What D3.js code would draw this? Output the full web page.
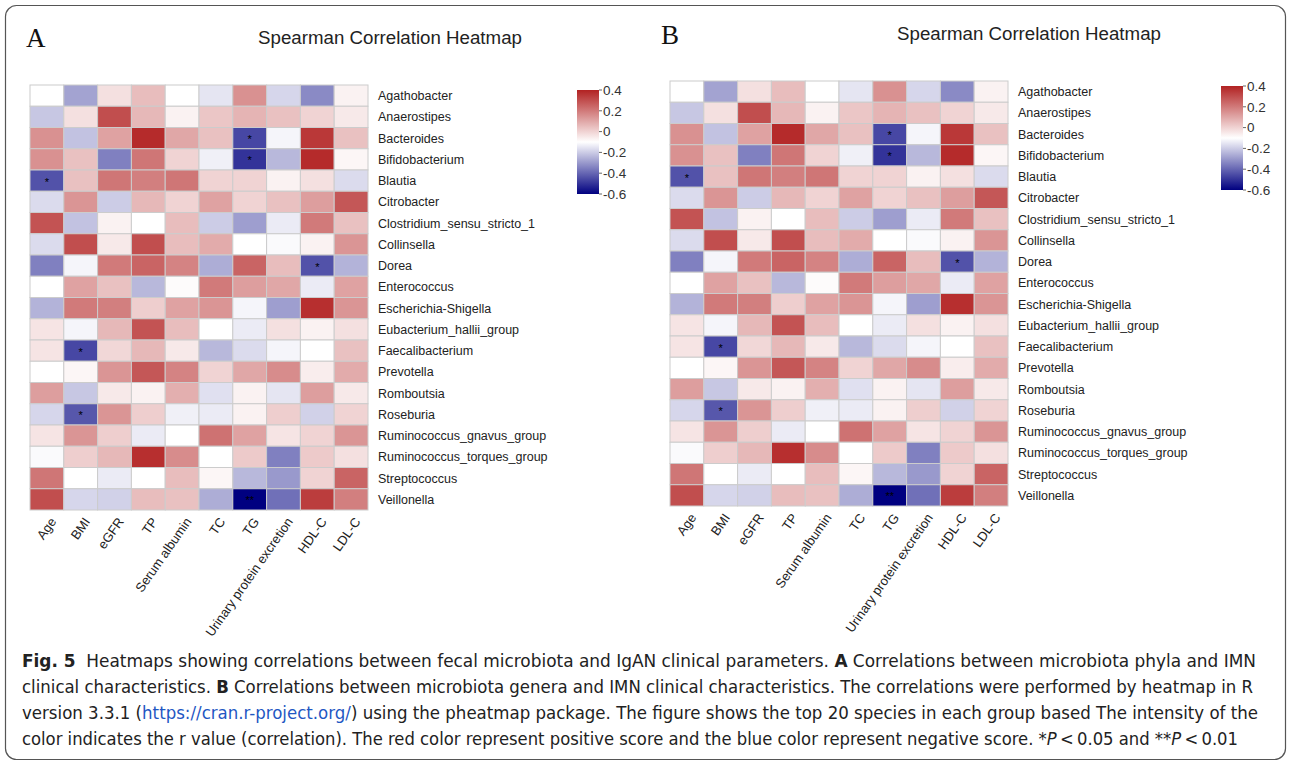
<!DOCTYPE html>
<html>
<head>
<meta charset="utf-8">
<script src="https://cdn.jsdelivr.net/npm/d3@7"></script>
<style>
  body { margin: 0; background: #fff; }
  svg { display: block; }
</style>
</head>
<body>
<script>
// taxa (rows) and clinical parameters (columns)
var taxa = ["Agathobacter", "Anaerostipes", "Bacteroides", "Bifidobacterium", "Blautia",
  "Citrobacter", "Clostridium_sensu_stricto_1", "Collinsella", "Dorea", "Enterococcus",
  "Escherichia-Shigella", "Eubacterium_hallii_group", "Faecalibacterium", "Prevotella",
  "Romboutsia", "Roseburia", "Ruminococcus_gnavus_group", "Ruminococcus_torques_group",
  "Streptococcus", "Veillonella"];

var params = ["Age", "BMI", "eGFR", "TP", "Serum albumin", "TC", "TG",
  "Urinary protein excretion", "HDL-C", "LDL-C"];

// spearman r
var rValues = [
  [-0.10, -0.28, -0.03, 0.05, -0.10, -0.15, 0.15, -0.18, -0.33, -0.07],
  [-0.21, -0.03, 0.30, 0.06, -0.07, 0.03, 0.07, 0.04, 0.00, -0.05],
  [0.15, -0.22, 0.11, 0.38, 0.10, 0.04, -0.46, -0.12, 0.35, 0.04],
  [0.15, 0.04, -0.35, 0.21, 0.00, -0.13, -0.50, -0.24, 0.38, -0.08],
  [-0.44, 0.04, 0.21, 0.19, 0.21, 0.00, 0.00, -0.07, -0.03, -0.17],
  [-0.17, 0.14, -0.20, 0.06, 0.00, 0.11, 0.00, 0.04, 0.12, 0.28],
  [0.29, -0.22, -0.07, -0.10, 0.05, -0.20, -0.29, -0.14, 0.20, 0.04],
  [-0.17, 0.30, -0.05, 0.30, 0.05, 0.09, -0.10, -0.11, -0.07, 0.14],
  [-0.35, -0.12, 0.20, 0.25, 0.18, -0.26, 0.25, 0.05, -0.44, -0.25],
  [-0.10, 0.11, 0.04, -0.24, -0.09, 0.20, 0.12, 0.10, -0.14, 0.11],
  [-0.25, 0.20, 0.19, 0.01, 0.11, 0.14, -0.12, -0.29, 0.37, 0.14],
  [-0.04, -0.12, 0.06, 0.29, 0.05, -0.10, -0.14, -0.03, -0.07, -0.03],
  [-0.04, -0.46, -0.01, 0.06, -0.05, -0.24, -0.17, -0.12, -0.10, 0.04],
  [-0.10, -0.08, 0.14, 0.28, 0.18, 0.00, 0.10, 0.16, -0.06, 0.09],
  [0.12, -0.21, -0.05, -0.07, 0.08, -0.16, -0.07, -0.15, 0.12, -0.05],
  [-0.18, -0.43, 0.14, 0.01, -0.13, -0.14, -0.07, 0.01, -0.19, 0.00],
  [-0.04, 0.14, 0.01, -0.14, -0.10, 0.22, 0.11, -0.04, 0.00, 0.14],
  [-0.11, 0.01, 0.06, 0.37, 0.16, -0.10, 0.02, -0.35, 0.02, -0.03],
  [0.21, -0.10, -0.14, -0.10, 0.05, -0.08, -0.24, -0.30, 0.00, 0.25],
  [0.30, -0.18, -0.19, 0.05, 0.04, -0.26, -0.60, -0.38, 0.34, 0.19]
];

// significance marks [row, col, label]
var stars = [
  [2, 6, "*"], [3, 6, "*"], [4, 0, "*"], [8, 8, "*"],
  [12, 1, "*"], [15, 1, "*"], [19, 6, "**"]
];

var legendTicks = [0.4, 0.2, 0, -0.2, -0.4, -0.6];

var W = 1290, H = 763;
var svg = d3.select("body").append("svg")
  .attr("width", W).attr("height", H)
  .style("font-family", "'Liberation Sans', Arial, Helvetica, sans-serif");

// frame
svg.append("rect")
  .attr("x", 5.5).attr("y", 5.5)
  .attr("width", 1280).attr("height", 754)
  .attr("rx", 11).attr("ry", 11)
  .attr("fill", "none").attr("stroke", "#555").attr("stroke-width", 1.2);

var color = d3.scaleLinear()
  .domain([-0.6, -0.1, 0.4])
  .range(["#000080", "#ffffff", "#b22222"]);

var panels = [
  {letter: "A", x: 30, y: 85, lx: 577, ly: 90, tx: 390, ty: 44, ax: 26, ay: 47},
  {letter: "B", x: 670, y: 81, lx: 1221, ly: 86, tx: 1029, ty: 40, ax: 661, ay: 44}
];

var cw = 338, ch = 425;

panels.forEach(function(p) {
  var g = svg.append("g").attr("transform", "translate(" + p.x + "," + p.y + ")");

  var x = d3.scaleBand().domain(params).range([0, cw]);
  var y = d3.scaleBand().domain(taxa).range([0, ch]);

  var cells = [];
  rValues.forEach(function(row, i) {
    row.forEach(function(v, j) {
      cells.push({taxon: taxa[i], param: params[j], v: v});
    });
  });

  g.selectAll("rect.cell")
    .data(cells)
    .enter().append("rect")
    .attr("class", "cell")
    .attr("x", function(d) { return x(d.param); })
    .attr("y", function(d) { return y(d.taxon); })
    .attr("width", x.bandwidth())
    .attr("height", y.bandwidth())
    .attr("fill", function(d) { return color(d.v); })
    .attr("stroke", "#cccccc")
    .attr("stroke-width", 1);

  g.selectAll("text.star")
    .data(stars)
    .enter().append("text")
    .attr("class", "star")
    .attr("x", function(d) { return x(params[d[1]]) + x.bandwidth() / 2; })
    .attr("y", function(d) { return y(taxa[d[0]]) + y.bandwidth() / 2 + 5; })
    .attr("text-anchor", "middle")
    .attr("font-size", 11)
    .attr("fill", "#000")
    .text(function(d) { return d[2]; });

  // row labels
  g.selectAll("text.row")
    .data(taxa)
    .enter().append("text")
    .attr("class", "row")
    .attr("x", cw + 10)
    .attr("y", function(d) { return y(d) + y.bandwidth() / 2; })
    .attr("dy", "0.35em")
    .attr("font-size", 12.5)
    .attr("fill", "#222")
    .text(function(d) { return d; });

  // column labels, slanted
  g.selectAll("text.col")
    .data(params)
    .enter().append("text")
    .attr("class", "col")
    .attr("transform", function(d) {
      return "translate(" + (x(d) + x.bandwidth() / 2 + 2) + "," + (ch + 6) + ") rotate(-55)";
    })
    .attr("text-anchor", "end")
    .attr("dy", "0.75em")
    .attr("font-size", 13)
    .attr("fill", "#222")
    .text(function(d) { return d; });

  // title + panel letter
  svg.append("text")
    .attr("x", p.tx).attr("y", p.ty)
    .attr("text-anchor", "middle")
    .attr("font-size", 18.7)
    .attr("fill", "#222")
    .text("Spearman Correlation Heatmap");

  svg.append("text")
    .attr("x", p.ax).attr("y", p.ay)
    .attr("font-family", "'Liberation Serif', 'Times New Roman', serif")
    .attr("font-size", 27)
    .attr("fill", "#111")
    .text(p.letter);

  // legend
  var lh = 104, lw = 22;
  var ly = d3.scaleLinear().domain([0.4, -0.6]).range([0, lh]);
  var gradId = "grad" + p.letter;
  var grad = svg.append("defs").append("linearGradient")
    .attr("id", gradId)
    .attr("x1", 0).attr("y1", 0).attr("x2", 0).attr("y2", 1);
  d3.range(0, 1.0001, 0.1).forEach(function(t) {
    grad.append("stop")
      .attr("offset", t)
      .attr("stop-color", color(ly.invert(t * lh)));
  });
  var lg = svg.append("g").attr("transform", "translate(" + p.lx + "," + p.ly + ")");
  lg.append("rect")
    .attr("width", lw).attr("height", lh)
    .attr("fill", "url(#" + gradId + ")");
  lg.selectAll("line.tk")
    .data(legendTicks)
    .enter().append("line")
    .attr("x1", lw).attr("x2", lw + 3)
    .attr("y1", function(d) { return ly(d); })
    .attr("y2", function(d) { return ly(d); })
    .attr("stroke", "#666");
  lg.selectAll("text.tk")
    .data(legendTicks)
    .enter().append("text")
    .attr("x", lw + 4)
    .attr("y", function(d) { return ly(d); })
    .attr("dy", "0.35em")
    .attr("font-size", 13.5)
    .attr("fill", "#333")
    .text(function(d) { return d; });
});

// caption
var capFont = "'Liberation Sans Narrow', 'DejaVu Sans Condensed', 'Noto Sans', sans-serif";
var capLines = [
  {y: 667, len: 1234, parts: [
    {t: "Fig. 5", b: true}, {t: "\u00a0\u00a0Heatmaps showing correlations between fecal microbiota and IgAN clinical parameters. "},
    {t: "A", b: true}, {t: " Correlations between microbiota phyla and IMN"}]},
  {y: 693, len: 1231, parts: [
    {t: "clinical characteristics. "}, {t: "B", b: true},
    {t: " Correlations between microbiota genera and IMN clinical characteristics. The correlations were performed by heatmap in R"}]},
  {y: 719, len: 1236, parts: [
    {t: "version 3.3.1 ("}, {t: "https://cran.r-project.org/", link: true},
    {t: ") using the pheatmap package. The figure shows the top 20 species in each group based The intensity of the"}]},
  {y: 745, len: 1216, parts: [
    {t: "color indicates the r value (correlation). The red color represent positive score and the blue color represent negative score. *"},
    {t: "P", i: true}, {t: "\u2009<\u20090.05 and **"}, {t: "P", i: true}, {t: "\u2009<\u20090.01"}]}
];

capLines.forEach(function(line) {
  var t = svg.append("text")
    .attr("x", 22).attr("y", line.y)
    .attr("font-family", capFont)
    .attr("font-size", 17)
    .attr("fill", "#222")
    .attr("textLength", line.len)
    .attr("lengthAdjust", "spacingAndGlyphs");
  line.parts.forEach(function(pt) {
    t.append("tspan")
      .attr("font-weight", pt.b ? "bold" : null)
      .attr("font-style", pt.i ? "italic" : null)
      .attr("fill", pt.link ? "#1f57c3" : null)
      .text(pt.t);
  });
});
</script>
</body>
</html>
